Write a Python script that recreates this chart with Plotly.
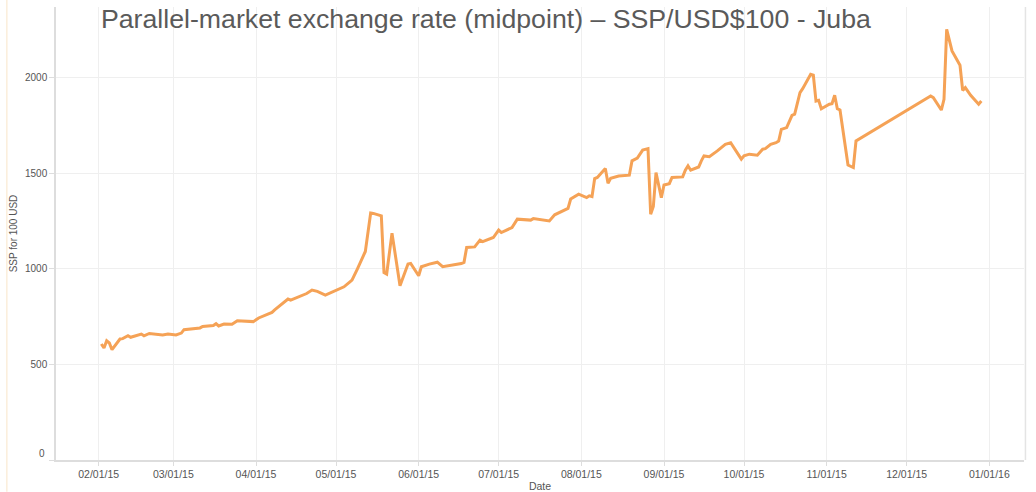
import plotly.graph_objects as go

dates = [
    "2015-02-02", "2015-02-03", "2015-02-04", "2015-02-05", "2015-02-06", "2015-02-09", "2015-02-10",
    "2015-02-12", "2015-02-13", "2015-02-17", "2015-02-18", "2015-02-20", "2015-02-25", "2015-02-27",
    "2015-03-02", "2015-03-04", "2015-03-05", "2015-03-11", "2015-03-12", "2015-03-16", "2015-03-17",
    "2015-03-18", "2015-03-20", "2015-03-23", "2015-03-25", "2015-03-31", "2015-04-02", "2015-04-06",
    "2015-04-07", "2015-04-08", "2015-04-13", "2015-04-14", "2015-04-16", "2015-04-20", "2015-04-22",
    "2015-04-24", "2015-04-27", "2015-05-04", "2015-05-06", "2015-05-07", "2015-05-09", "2015-05-12",
    "2015-05-14", "2015-05-15", "2015-05-18", "2015-05-19", "2015-05-20", "2015-05-22", "2015-05-25",
    "2015-05-28", "2015-05-29", "2015-06-01", "2015-06-02", "2015-06-03", "2015-06-05", "2015-06-08",
    "2015-06-10", "2015-06-17", "2015-06-18", "2015-06-19", "2015-06-22", "2015-06-24", "2015-06-25",
    "2015-06-29", "2015-07-01", "2015-07-02", "2015-07-06", "2015-07-08", "2015-07-13", "2015-07-14",
    "2015-07-20", "2015-07-22", "2015-07-24", "2015-07-27", "2015-07-28", "2015-07-31", "2015-08-03",
    "2015-08-04", "2015-08-05", "2015-08-06", "2015-08-07", "2015-08-10", "2015-08-11", "2015-08-12",
    "2015-08-15", "2015-08-19", "2015-08-20", "2015-08-22", "2015-08-24", "2015-08-26", "2015-08-27",
    "2015-08-28", "2015-08-29", "2015-08-31", "2015-09-01", "2015-09-03", "2015-09-04", "2015-09-08",
    "2015-09-09", "2015-09-10", "2015-09-11", "2015-09-14", "2015-09-15", "2015-09-16", "2015-09-18",
    "2015-09-21", "2015-09-24", "2015-09-26", "2015-09-30", "2015-10-01", "2015-10-03", "2015-10-06",
    "2015-10-08", "2015-10-09", "2015-10-11", "2015-10-13", "2015-10-14", "2015-10-15", "2015-10-17",
    "2015-10-19", "2015-10-20", "2015-10-22", "2015-10-23", "2015-10-26", "2015-10-27", "2015-10-28",
    "2015-10-29", "2015-10-30", "2015-11-02", "2015-11-03", "2015-11-04", "2015-11-05", "2015-11-06",
    "2015-11-09", "2015-11-11", "2015-11-12", "2015-12-10", "2015-12-11", "2015-12-14", "2015-12-15",
    "2015-12-16", "2015-12-18", "2015-12-21", "2015-12-22", "2015-12-23", "2015-12-25", "2015-12-28",
    "2015-12-29",
]

rates = [
    607, 586, 624, 612, 577, 633, 635,
    650, 642, 659, 650, 662, 654, 659,
    654, 664, 682, 691, 699, 704, 713,
    701, 711, 710, 729, 724, 743, 764,
    772, 785, 842, 836, 847, 871, 889,
    882, 863, 906, 929, 941, 999, 1091,
    1292, 1290, 1277, 981, 973, 1187, 912,
    1025, 1028, 964, 1011, 1016, 1025, 1035,
    1011, 1028, 1034, 1112, 1115, 1150, 1143,
    1164, 1203, 1190, 1216, 1260, 1255, 1263,
    1251, 1283, 1295, 1316, 1365, 1391, 1373,
    1382, 1378, 1472, 1478, 1525, 1448, 1474,
    1486, 1490, 1565, 1579, 1621, 1629, 1286,
    1326, 1504, 1373, 1439, 1446, 1478, 1481,
    1516, 1539, 1516, 1533, 1565, 1591, 1587,
    1617, 1652, 1660, 1574, 1591, 1600, 1595,
    1626, 1629, 1652, 1660, 1669, 1730, 1739,
    1803, 1809, 1922, 1943, 2018, 2014, 1878,
    1882, 1838, 1861, 1864, 1908, 1838, 1831,
    1543, 1530, 1669, 1904, 1896, 1831, 1887,
    2253, 2140, 2065, 1934, 1948, 1908, 1861,
    1878,
]

x_tick_vals = ["2015-02-01", "2015-03-01", "2015-04-01", "2015-05-01", "2015-06-01", "2015-07-01",
               "2015-08-01", "2015-09-01", "2015-10-01", "2015-11-01", "2015-12-01", "2016-01-01"]
x_tick_text = ["02/01/15", "03/01/15", "04/01/15", "05/01/15", "06/01/15", "07/01/15",
               "08/01/15", "09/01/15", "10/01/15", "11/01/15", "12/01/15", "01/01/16"]
y_tick_vals = [0, 500, 1000, 1500, 2000]
y_tick_text = ["", "500", "1000", "1500", "2000"]  # "0" drawn separately, lifted off the axis line

title_text = "Parallel-market exchange rate (midpoint) – SSP/USD$100 - Juba"

fig = go.Figure()
fig.add_trace(go.Scatter(
    x=dates, y=rates, mode="lines",
    line=dict(color="#F5A256", width=3),
    hoverinfo="x+y", showlegend=False,
))

font_family = "Liberation Sans, Arial, Helvetica, sans-serif"

fig.update_layout(
    width=1036, height=492,
    margin=dict(l=56, r=12, t=7, b=32),
    paper_bgcolor="white", plot_bgcolor="white",
    font=dict(family=font_family, color="#666666"),
    title=dict(text=title_text, x=0.469, xanchor="center", y=0.962, yanchor="middle",
               yref="container", font=dict(size=26.7, color="#5a5a5a", family=font_family)),
    xaxis=dict(
        range=["2015-01-16", "2016-01-14"],
        tickvals=x_tick_vals, ticktext=x_tick_text,
        tickfont=dict(size=10.5, color="#555555"),
        showgrid=True, gridcolor="#efefef", gridwidth=1,
        showline=True, linecolor="#dddddd", linewidth=1.5,
        ticks="outside", ticklen=4, tickcolor="#dddddd",
        zeroline=False, automargin=False,
        title=dict(text="Date", font=dict(size=10.5, color="#555555"), standoff=4),
    ),
    yaxis=dict(
        range=[0, 2370],
        tickvals=y_tick_vals, ticktext=y_tick_text,
        tickfont=dict(size=10, color="#555555"),
        showgrid=True, gridcolor="#efefef", gridwidth=1,
        showline=True, linecolor="#dddddd", linewidth=1.5,
        ticks="outside", ticklen=5, tickcolor="#dddddd",
        zeroline=False, automargin=False,
        title=dict(text="SSP for 100 USD", font=dict(size=10, color="#555555"), standoff=6),
    ),
    annotations=[
        dict(text="0", xref="paper", yref="y", x=0, y=0, xanchor="right", yanchor="middle",
             xshift=-9, yshift=7, showarrow=False, font=dict(size=10, color="#555555")),
    ],
    shapes=[
        dict(type="line", xref="paper", yref="paper", x0=-0.0508, x1=-0.0508, y0=-0.07, y1=1.02,
             line=dict(color="#fbeedb", width=1.5)),
        dict(type="line", xref="paper", yref="paper", x0=1.0015, x1=1.0015, y0=-0.0, y1=1.0,
             line=dict(color="#e4e4e4", width=1.5)),
    ],
)

fig.write_html("out.html", config={"displayModeBar": False},
               post_script="document.body.style.margin='0';")
